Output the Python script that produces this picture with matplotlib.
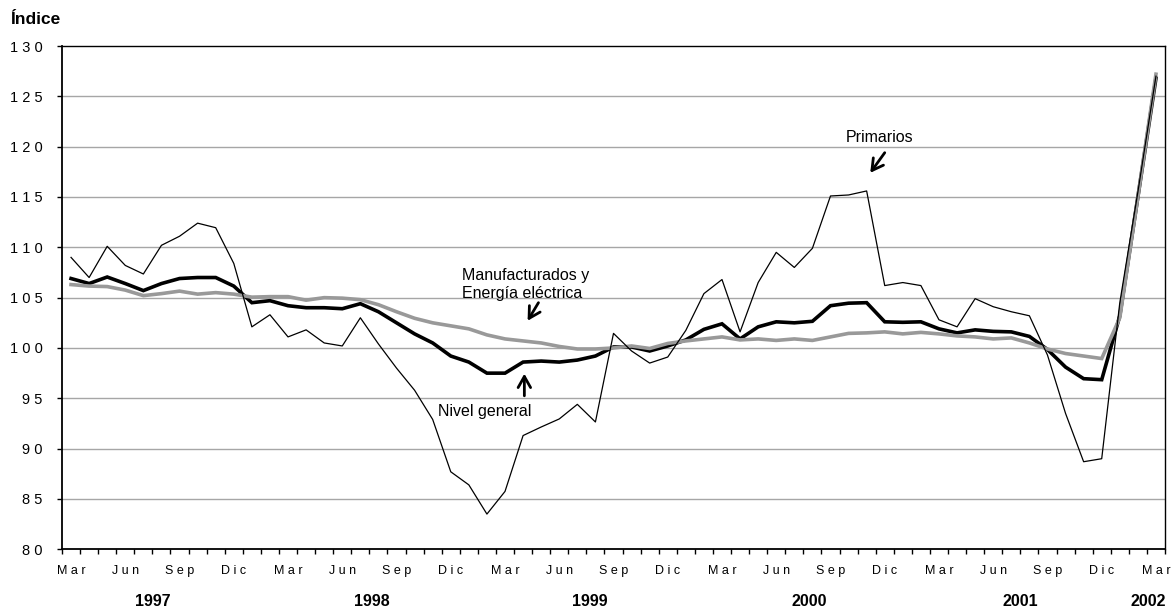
import matplotlib
matplotlib.use("Agg")
import matplotlib.pyplot as plt
import matplotlib.transforms as mtransforms
import numpy as np

# ---- data (monthly, Mar 1997 .. Mar 2002) ----
primarios = [109.0, 107.0, 110.1, 108.2, 107.35, 110.2, 111.1, 112.4, 111.95, 108.4,
             102.1, 103.3, 101.1, 101.8, 100.5, 100.2, 103.0, 100.4, 98.0, 95.8,
             92.9, 87.7, 86.4, 83.5, 85.75, 91.3, 92.15, 92.95, 94.4, 92.65,
             101.45, 99.7, 98.5, 99.1, 101.75, 105.4, 106.8, 101.6, 106.5, 109.5,
             108.0, 109.9, 115.1, 115.2, 115.6, 106.2, 106.5, 106.2, 102.8, 102.1,
             104.9, 104.1, 103.6, 103.2, 99.3, 93.5, 88.7, 89.0, 104.5, 115.5, 127.0]
nivel_general = [106.9, 106.4, 107.05, 106.4, 105.7, 106.4, 106.9, 107.0, 107.0, 106.15,
                 104.5, 104.7, 104.2, 104.0, 104.0, 103.9, 104.4, 103.6, 102.5, 101.4,
                 100.5, 99.2, 98.6, 97.5, 97.5, 98.6, 98.7, 98.6, 98.8, 99.2,
                 100.1, 100.1, 99.7, 100.2, 100.8, 101.85, 102.4, 100.9, 102.1, 102.6,
                 102.5, 102.65, 104.2, 104.45, 104.5, 102.6, 102.55, 102.6, 101.9, 101.5,
                 101.8, 101.65, 101.6, 101.15, 99.85, 98.1, 96.95, 96.85, 103.2, 115.0, 126.8]
manufacturados = [106.3, 106.15, 106.1, 105.75, 105.2, 105.4, 105.65, 105.35, 105.5, 105.35,
                  105.05, 105.1, 105.1, 104.75, 105.0, 104.95, 104.8, 104.3, 103.6, 102.95,
                  102.5, 102.2, 101.9, 101.3, 100.9, 100.7, 100.5, 100.15, 99.9, 99.9,
                  100.0, 100.2, 99.95, 100.45, 100.7, 100.9, 101.1, 100.8, 100.9, 100.75,
                  100.9, 100.75, 101.1, 101.45, 101.5, 101.6, 101.4, 101.55, 101.4, 101.2,
                  101.1, 100.9, 101.0, 100.5, 99.9, 99.45, 99.2, 98.95, 103.0, 115.0, 127.2]

month_labels = ["Mar", "Jun", "Sep", "Dic"]
year_labels = ["1997", "1998", "1999", "2000", "2001", "2002"]
year_pos = [4.5, 16.65, 28.7, 40.8, 52.5, 59.6]
y_ticks = list(range(80, 131, 5))

n = len(primarios)
x = np.arange(n)

plt.rcParams['font.family'] = ['Liberation Sans', 'DejaVu Sans']

fig = plt.figure(figsize=(11.72, 6.09), dpi=100)
ax = fig.add_axes([62 / 1172, 1 - 549.3 / 609, (1165 - 62) / 1172, (549.3 - 46) / 609])

ax.set_xlim(-0.5, n - 0.5)
ax.set_ylim(80, 130)

# gridlines
for v in y_ticks[1:-1]:
    ax.axhline(v, color='#a6a6a6', lw=1.0, zorder=1)

ax.plot(x, nivel_general, color='black', lw=2.6, zorder=3, solid_joinstyle='miter')
ax.plot(x, manufacturados, color='#999999', lw=2.6, zorder=4, solid_joinstyle='miter')
ax.plot(x, primarios, color='black', lw=0.9, zorder=5)

for s in ax.spines.values():
    s.set_color('black')
    s.set_linewidth(1.0)
ax.spines['left'].set_linewidth(1.3)
ax.spines['bottom'].set_linewidth(1.3)

# y axis
ax.set_yticks(y_ticks)
ax.set_yticklabels([" ".join(str(v)) for v in y_ticks], fontsize=10.5)
ax.tick_params(axis='y', length=3.6, width=1, pad=10.5, colors='black')

# x axis: tick marks at month boundaries, labels every quarter
ax.set_xticks(np.arange(-0.5, n, 1.0), minor=True)
lab_idx = list(range(0, n, 3))
ax.set_xticks(lab_idx)
ax.set_xticklabels([" ".join(month_labels[(i // 3) % 4]) for i in lab_idx], fontsize=9)
ax.tick_params(axis='x', which='major', length=0, pad=11)
ax.tick_params(axis='x', which='minor', length=3.6, width=1)

trans = mtransforms.blended_transform_factory(ax.transData, ax.transAxes)
for lab, pos in zip(year_labels, year_pos):
    ax.text(pos, -0.103, lab, transform=trans, ha='center', va='center',
            fontsize=11.5, fontweight='bold')

fig.text(10 / 1172, 1 - 20 / 609, "Índice", ha='left', va='center',
         fontsize=12.5, fontweight='bold')

arrow_kw = dict(arrowstyle='->,head_length=0.8,head_width=0.45', lw=2.0, color='black',
                shrinkA=0, shrinkB=0)

# annotations
ax.text(44.7, 120.9, "Primarios", ha='center', va='center', fontsize=11.5)
ax.annotate("", xy=(44.2, 117.4), xytext=(45.0, 119.4), arrowprops=arrow_kw)

ax.text(21.6, 106.3, "Manufacturados y\nEnergía eléctrica", ha='left', va='center',
        fontsize=11.5, linespacing=1.2)
ax.annotate("", xy=(25.25, 102.7), xytext=(25.85, 104.5), arrowprops=arrow_kw)

ax.text(22.9, 93.7, "Nivel general", ha='center', va='center', fontsize=11.5)
ax.annotate("", xy=(25.07, 97.45), xytext=(25.07, 95.25), arrowprops=arrow_kw)

fig.savefig("out.png", dpi=100)
